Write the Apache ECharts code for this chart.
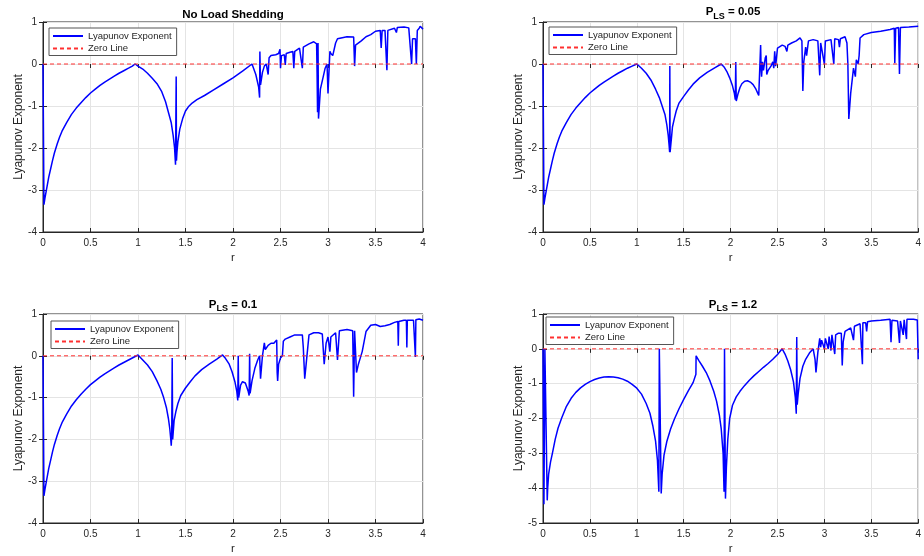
<!DOCTYPE html>
<html><head><meta charset="utf-8">
<script src="https://cdn.jsdelivr.net/npm/echarts@6/dist/echarts.min.js"></script>
<style>html,body{margin:0;padding:0;background:#fff}#c{width:924px;height:556px}</style>
</head><body><div id="c"></div>
<script>
// ---- data: [r, Lyapunov exponent] ----
const noLoadShedding = [
[0,0],[0.01,-3.35],[0.02,-3.2],[0.04,-2.95],[0.06,-2.7],[0.08,-2.5],[0.1,-2.3],[0.12,-2.12],[0.15,-1.9],[0.175,-1.74],[0.2,-1.6],[0.25,-1.39],[0.3,-1.2],[0.35,-1.05],[0.4,-0.92],[0.45,-0.8],[0.5,-0.69],[0.55,-0.6],[0.6,-0.51],[0.65,-0.43],[0.7,-0.36],[0.75,-0.29],[0.8,-0.22],[0.85,-0.16],[0.9,-0.1],[0.94,-0.05],[0.97,0.0],
[1.0,-0.05],[1.05,-0.12],[1.1,-0.22],[1.15,-0.34],[1.2,-0.47],[1.25,-0.66],[1.29,-0.9],[1.32,-1.15],[1.35,-1.4],[1.37,-1.7],[1.385,-2.0],[1.395,-2.4],[1.4,-2.4],[1.402,-0.3],[1.405,-2.3],[1.41,-2.1],[1.42,-1.85],[1.44,-1.55],[1.47,-1.3],[1.5,-1.12],[1.53,-1.02],[1.57,-0.93],[1.62,-0.85],[1.7,-0.75],[1.8,-0.61],[1.9,-0.47],[2.0,-0.33],[2.1,-0.17],[2.2,0.0],
[2.24,-0.25],[2.27,-0.55],[2.28,-0.8],[2.283,0.3],[2.29,-0.5],[2.31,-0.2],[2.33,-0.05],[2.35,0.0],[2.37,-0.25],[2.38,0.15],[2.4,0.2],[2.45,0.22],[2.48,0.25],[2.495,0.35],[2.5,-0.1],[2.51,0.2],[2.54,0.22],[2.55,-0.02],[2.56,0.25],[2.6,0.28],[2.63,0.3],[2.64,-0.1],[2.65,0.3],[2.7,0.38],[2.72,0.4],[2.73,-0.1],[2.74,0.4],[2.8,0.48],[2.85,0.53],[2.88,0.48],[2.885,-0.2],[2.89,-1.15],[2.895,0.5],[2.9,-1.3],[2.92,-0.6],[2.95,-0.3],[2.97,-0.1],[2.99,0.0],[3.0,-0.7],[3.02,0.3],[3.03,0.25],[3.05,0.2],[3.08,0.5],[3.1,0.6],[3.2,0.65],[3.27,0.64],[3.28,-0.05],[3.29,0.45],[3.35,0.55],[3.4,0.65],[3.45,0.7],[3.5,0.78],[3.55,0.8],[3.56,0.38],[3.57,0.8],[3.6,0.8],[3.62,-0.15],[3.63,0.8],[3.65,0.82],[3.7,0.85],[3.72,0.75],[3.73,0.87],[3.8,0.88],[3.85,0.86],[3.87,0.85],[3.88,0.0],[3.89,0.6],[3.92,0.6],[3.93,0.0],[3.94,0.8],[3.96,0.85],[3.97,0.9],[4.0,0.83]
];
const pLS005 = [
[0,0],[0.01,-3.35],[0.02,-3.2],[0.04,-2.95],[0.06,-2.7],[0.08,-2.5],[0.1,-2.3],[0.12,-2.12],[0.15,-1.9],[0.175,-1.74],[0.2,-1.6],[0.25,-1.39],[0.3,-1.2],[0.35,-1.05],[0.4,-0.92],[0.45,-0.8],[0.5,-0.69],[0.55,-0.6],[0.6,-0.51],[0.65,-0.43],[0.7,-0.36],[0.75,-0.29],[0.8,-0.22],[0.85,-0.16],[0.9,-0.1],[0.95,-0.05],[1.0,0.0],
[1.05,-0.1],[1.1,-0.22],[1.15,-0.38],[1.2,-0.6],[1.24,-0.8],[1.27,-1.0],[1.3,-1.2],[1.32,-1.45],[1.335,-1.7],[1.345,-1.95],[1.35,-2.1],[1.352,-0.05],[1.355,-2.1],[1.36,-2.1],[1.37,-1.75],[1.38,-1.5],[1.4,-1.3],[1.42,-1.12],[1.45,-0.93],[1.5,-0.77],[1.55,-0.62],[1.6,-0.48],[1.67,-0.33],[1.75,-0.2],[1.83,-0.09],[1.9,0.0],[1.93,-0.07],[1.96,-0.18],[1.99,-0.33],[2.02,-0.52],[2.04,-0.7],[2.05,-0.85],[2.055,0.05],[2.06,-0.88],[2.07,-0.85],[2.08,-0.7],[2.1,-0.56],[2.12,-0.47],[2.15,-0.41],[2.18,-0.4],[2.21,-0.43],[2.24,-0.49],[2.27,-0.6],[2.29,-0.7],[2.3,-0.75],[2.315,-0.75],
[2.32,0.45],[2.325,-0.1],[2.33,-0.3],[2.34,0.05],[2.35,-0.15],[2.37,0.15],[2.38,0.2],[2.385,-0.25],[2.4,-0.15],[2.43,-0.05],[2.45,0.05],[2.46,-0.1],[2.47,0.3],[2.48,-0.05],[2.5,0.38],[2.55,0.45],[2.58,0.42],[2.6,0.3],[2.61,0.45],[2.65,0.5],[2.7,0.55],[2.74,0.62],[2.76,0.55],[2.77,-0.64],[2.78,0.05],[2.8,0.4],[2.81,0.2],[2.83,0.55],[2.88,0.58],[2.93,0.55],[2.95,-0.27],[2.96,0.5],[2.98,0.52],[3.0,0.0],[3.01,0.55],[3.07,0.58],[3.1,0.0],[3.11,0.6],[3.15,0.58],[3.16,0.4],[3.17,0.6],[3.22,0.65],[3.24,0.5],[3.25,0.0],[3.26,-1.31],[3.28,-0.7],[3.3,-0.3],[3.31,-0.1],[3.33,-0.3],[3.34,0.1],[3.36,0.0],[3.37,0.2],[3.38,0.62],[3.42,0.7],[3.5,0.75],[3.6,0.78],[3.7,0.82],[3.745,0.85],[3.75,0.02],[3.76,0.85],[3.79,0.87],[3.8,-0.24],[3.81,0.87],[3.9,0.88],[4.0,0.9]
];
const pLS01 = [
[0,0],[0.01,-3.35],[0.02,-3.2],[0.04,-2.95],[0.06,-2.7],[0.08,-2.5],[0.1,-2.3],[0.12,-2.12],[0.15,-1.9],[0.175,-1.74],[0.2,-1.6],[0.25,-1.39],[0.3,-1.2],[0.35,-1.05],[0.4,-0.92],[0.45,-0.8],[0.5,-0.69],[0.55,-0.6],[0.6,-0.51],[0.65,-0.43],[0.7,-0.36],[0.75,-0.29],[0.8,-0.22],[0.85,-0.16],[0.9,-0.1],[0.95,-0.04],[1.0,0.02],
[1.05,-0.1],[1.1,-0.22],[1.15,-0.38],[1.2,-0.6],[1.24,-0.8],[1.27,-1.0],[1.3,-1.25],[1.32,-1.5],[1.335,-1.75],[1.345,-2.0],[1.35,-2.15],[1.355,-1.9],[1.36,-0.05],[1.365,-2.0],[1.37,-1.85],[1.38,-1.55],[1.4,-1.32],[1.42,-1.14],[1.45,-0.95],[1.5,-0.77],[1.55,-0.62],[1.6,-0.48],[1.67,-0.33],[1.75,-0.2],[1.83,-0.08],[1.89,0.02],[1.92,-0.06],[1.96,-0.2],[1.99,-0.38],[2.02,-0.62],[2.04,-0.85],[2.05,-1.07],[2.055,0.0],[2.06,-1.0],[2.08,-0.7],[2.1,-0.62],[2.13,-0.65],[2.16,-0.85],[2.17,-0.95],[2.175,0.05],[2.18,-0.9],[2.2,-0.6],[2.23,-0.3],[2.26,-0.1],[2.28,0.0],[2.29,-0.55],[2.31,0.0],
[2.33,0.31],[2.34,0.15],[2.37,0.25],[2.4,0.3],[2.43,0.3],[2.46,0.38],[2.465,-0.4],[2.47,-0.6],[2.48,-0.2],[2.5,-0.05],[2.52,0.0],[2.53,0.35],[2.55,0.4],[2.6,0.45],[2.65,0.5],[2.7,0.5],[2.73,0.5],[2.74,0.2],[2.755,-0.55],[2.77,-0.2],[2.8,0.5],[2.85,0.55],[2.9,0.55],[2.94,0.52],[2.96,-0.2],[2.98,0.3],[3.0,0.45],[3.02,0.1],[3.03,0.45],[3.08,0.55],[3.1,-0.1],[3.12,0.6],[3.2,0.63],[3.26,0.6],[3.27,-0.98],[3.28,0.6],[3.3,-0.4],[3.32,-0.2],[3.34,-0.05],[3.36,0.1],[3.4,0.58],[3.45,0.73],[3.5,0.75],[3.55,0.7],[3.6,0.72],[3.65,0.75],[3.7,0.8],[3.735,0.82],[3.74,0.24],[3.745,0.82],[3.8,0.85],[3.825,0.85],[3.83,0.2],[3.835,0.85],[3.9,0.85],[3.915,0.86],[3.92,-0.03],[3.925,0.86],[3.96,0.88],[4.0,0.85]
];
const pLS12 = [
[0,0],[0.01,-4.46],[0.02,0.0],[0.035,0.0],[0.045,-4.35],[0.05,-4.0],[0.06,-3.6],[0.08,-3.25],[0.1,-3.0],[0.13,-2.6],[0.16,-2.28],[0.2,-1.98],[0.25,-1.65],[0.3,-1.42],[0.35,-1.25],[0.4,-1.12],[0.45,-1.02],[0.5,-0.94],[0.55,-0.88],[0.6,-0.84],[0.65,-0.81],[0.7,-0.8],[0.75,-0.81],[0.8,-0.83],[0.85,-0.87],[0.9,-0.93],[0.95,-1.02],[1.0,-1.13],[1.05,-1.3],[1.1,-1.57],[1.14,-1.85],[1.17,-2.2],[1.2,-2.65],[1.22,-3.2],[1.235,-4.1],[1.24,0.0],[1.25,0.0],[1.26,-4.15],[1.27,-3.6],[1.29,-3.05],[1.32,-2.66],[1.36,-2.3],[1.4,-2.02],[1.45,-1.72],[1.5,-1.45],[1.55,-1.2],[1.6,-0.97],[1.63,-0.73],[1.632,-0.2],[1.66,-0.33],[1.7,-0.5],[1.74,-0.68],[1.78,-0.92],[1.82,-1.22],[1.85,-1.5],[1.88,-1.9],[1.9,-2.3],[1.92,-3.0],[1.93,-4.1],[1.935,0.0],[1.94,0.0],[1.945,-4.3],[1.955,-3.4],[1.97,-2.6],[1.99,-2.0],[2.02,-1.62],[2.06,-1.38],[2.1,-1.22],[2.15,-1.05],[2.2,-0.9],[2.25,-0.77],[2.3,-0.65],[2.35,-0.53],[2.4,-0.42],[2.45,-0.3],[2.5,-0.16],[2.55,0.0],
[2.58,-0.15],[2.61,-0.35],[2.64,-0.6],[2.67,-0.95],[2.69,-1.4],[2.7,-1.86],[2.705,0.34],[2.71,-1.6],[2.72,-1.3],[2.74,-0.85],[2.77,-0.5],[2.8,-0.3],[2.84,-0.12],[2.88,0.0],[2.9,-0.3],[2.91,-0.68],[2.93,-0.1],[2.95,0.3],[2.96,0.05],[2.97,0.25],[2.99,0.3],[3.0,0.0],[3.01,0.3],[3.03,0.35],[3.04,0.0],[3.05,0.35],[3.06,0.38],[3.07,-0.05],[3.08,0.4],[3.1,0.4],[3.11,-0.15],[3.12,0.4],[3.15,0.45],[3.18,0.45],[3.19,-0.48],[3.2,0.2],[3.22,0.5],[3.28,0.6],[3.3,0.62],[3.31,0.25],[3.32,0.65],[3.38,0.72],[3.4,0.75],[3.405,-0.44],[3.41,0.75],[3.44,0.75],[3.45,0.5],[3.46,0.78],[3.5,0.8],[3.6,0.82],[3.7,0.85],[3.71,0.19],[3.72,0.82],[3.78,0.8],[3.8,0.17],[3.81,0.8],[3.83,0.8],[3.84,0.4],[3.85,0.83],[3.87,0.82],[3.875,0.28],[3.88,0.85],[3.95,0.85],[3.99,0.83],[4.0,-0.3]
];
const zeroLine = [[0,0],[4,0]];
const seriesNames = ['Lyapunov Exponent', 'Zero Line'];
const panelTitles = ['No Load Shedding', '0.05', '0.1', '1.2'];
const yMins = [-4, -4, -4, -5];
const curves = [noLoadShedding, pLS005, pLS01, pLS12];

// ---- layout ----
const FONT = '"Liberation Sans", Arial, Helvetica, sans-serif';
const INK = '#262626';
const layout = [
  {left:43, top:22, height:210, lgLeft:49, lgTop:28, tx:233, ty:14.5},
  {left:543, top:22, height:210, lgLeft:549, lgTop:27, tx:733, ty:12.5},
  {left:43, top:314, height:211.5, lgLeft:51, lgTop:321, tx:233, ty:305},
  {left:543, top:314, height:211.5, lgLeft:546, lgTop:317, tx:733, ty:305}
];

const grid = [], xAxis = [], yAxis = [], series = [], legend = [], graphic = [];
layout.forEach((L, i) => {
  grid.push({left:L.left, top:L.top, width:380, height:L.height, show:true, borderColor:INK, borderWidth:1, backgroundColor:'#fff', containLabel:false});
  const tick = {show:true, inside:true, length:4, lineStyle:{color:INK, width:1}};
  xAxis.push({gridIndex:i, type:'value', min:0, max:4, interval:0.5, position:'bottom',
    name:'r', nameLocation:'middle', nameGap:20, nameTextStyle:{fontFamily:FONT, fontSize:11.5, color:INK},
    axisLine:{show:true, onZero:false, lineStyle:{color:INK}}, axisTick:tick,
    axisLabel:{fontFamily:FONT, fontSize:10, color:INK, margin:6, showMinLabel:true, showMaxLabel:true},
    splitLine:{show:true, lineStyle:{color:'#e4e4e4', width:1}}});
  xAxis.push({gridIndex:i, type:'value', min:0, max:4, interval:0.5, position:'top',
    axisLine:{show:false}, axisTick:tick, axisLabel:{show:false}, splitLine:{show:false}});
  yAxis.push({gridIndex:i, type:'value', min:yMins[i], max:1, interval:1, position:'left',
    name:'Lyapunov Exponent', nameLocation:'middle', nameGap:16, nameTextStyle:{fontFamily:FONT, fontSize:12, color:INK},
    axisLine:{show:true, onZero:false, lineStyle:{color:INK}}, axisTick:tick,
    axisLabel:{fontFamily:FONT, fontSize:10, color:INK, margin:6, showMinLabel:true, showMaxLabel:true},
    splitLine:{show:true, lineStyle:{color:'#e4e4e4', width:1}}});
  yAxis.push({gridIndex:i, type:'value', min:yMins[i], max:1, interval:1, position:'right',
    axisLine:{show:false}, axisTick:tick, axisLabel:{show:false}, splitLine:{show:false}});
  series.push({name:seriesNames[0], type:'line', xAxisIndex:2*i, yAxisIndex:2*i, data:curves[i],
    showSymbol:false, symbol:'none', clip:true, animation:false,
    lineStyle:{color:'#0000ff', width:1.5}, itemStyle:{color:'#0000ff'}, z:3});
  series.push({name:seriesNames[1], type:'line', xAxisIndex:2*i, yAxisIndex:2*i, data:zeroLine,
    showSymbol:false, symbol:'none', clip:true, animation:false,
    lineStyle:{color:'#ff3030', width:1, type:[4,3]}, itemStyle:{color:'#ff3030'}, z:4});
  legend.push({left:L.lgLeft, top:L.lgTop, orient:'vertical', data:seriesNames, selectedMode:false,
    itemWidth:30, itemHeight:10, itemGap:2.5, padding:[3,5,2,3], backgroundColor:'#fff',
    borderColor:'#555', borderWidth:1, borderRadius:0,
    itemStyle:{opacity:0},
    textStyle:{fontFamily:FONT, fontSize:9.5, color:INK}});
  if (i === 0) {
    graphic.push({type:'text', x:L.tx, y:L.ty, z:10, style:{text:panelTitles[i], fontFamily:FONT, fontSize:11.5, fontWeight:'bold', fill:'#000', align:'center', verticalAlign:'middle'}});
  } else {
    graphic.push({type:'text', x:L.tx, y:L.ty, z:10, style:{
      text:'{b|P}{s|LS}{b| = ' + panelTitles[i] + '}', align:'center', verticalAlign:'middle',
      rich:{
        b:{fontFamily:FONT, fontSize:11.5, fontWeight:'bold', fill:'#000', lineHeight:13, verticalAlign:'top'},
        s:{fontFamily:FONT, fontSize:9, fontWeight:'bold', fill:'#000', lineHeight:13, verticalAlign:'top', padding:[6,0,0,0]}
      }}});
  }
});

const chart = echarts.init(document.getElementById('c'), null, {renderer:'canvas'});
chart.setOption({backgroundColor:'#fff', animation:false, grid, xAxis, yAxis, series, legend, graphic});
</script>
</body></html>
